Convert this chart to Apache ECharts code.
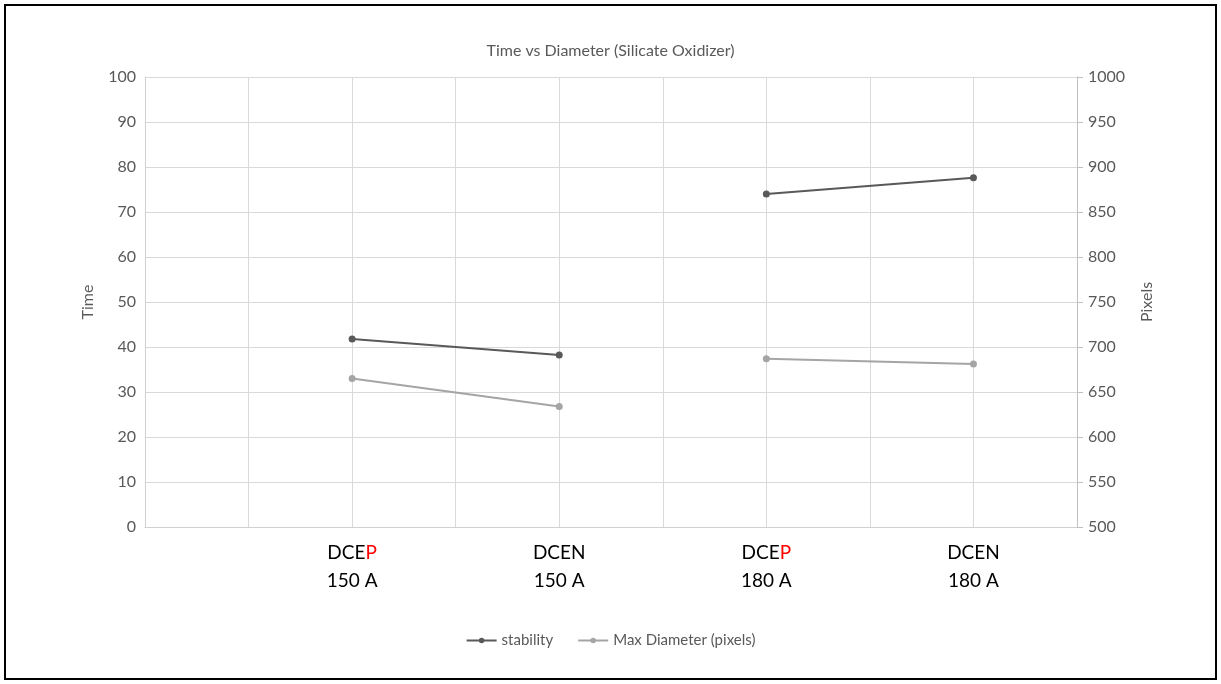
<!DOCTYPE html>
<html>
<head>
<meta charset="utf-8">
<title>Time vs Diameter (Silicate Oxidizer)</title>
<script src="https://cdn.jsdelivr.net/npm/echarts@6/dist/echarts.min.js"></script>
<style>
  html, body { margin: 0; padding: 0; background: #ffffff; }
  #chart { width: 1221px; height: 684px; }
</style>
</head>
<body>
<div id="chart"></div>
<script>
// Welding modes and currents, placed at every other slot of the x scale
const modes = ['DCEP', 'DCEN', 'DCEP', 'DCEN'];
const currents = ['150 A', '150 A', '180 A', '180 A'];
const positions = [2, 4, 6, 8];

// Measured values
const stability = [41.8, 38.2, 74.0, 77.6];        // Time (left axis)
const maxDiameter = [665, 634, 687, 681];          // Pixels (right axis)

const seriesNames = ['stability', 'Max Diameter (pixels)'];
const seriesColors = ['#595959', '#a5a5a5'];

const labelFont = 'Lato, "Open Sans", "Liberation Sans", sans-serif';

function xLabel(value) {
  const i = positions.indexOf(value);
  if (i < 0) return '';
  const m = modes[i];
  const head = m.slice(0, m.length - 1);
  const last = m.slice(-1);
  const lastStyle = last === 'P' ? 'r' : 'k';
  return '{k|' + head + '}{' + lastStyle + '|' + last + '}\n{k|' + currents[i] + '}';
}

// Each current level is drawn as its own segment, so the lines do not join across levels
const groups = [...new Set(currents)];

function buildSeries(values, name, color, axisIndex) {
  return groups.map(g => ({
    name: name,
    type: 'line',
    yAxisIndex: axisIndex,
    data: positions
      .map((x, i) => ({ x, i }))
      .filter(p => currents[p.i] === g)
      .map(p => [p.x, values[p.i]]),
    symbol: 'circle',
    symbolSize: 7,
    lineStyle: { color: color, width: 2 },
    itemStyle: { color: color }
  }));
}

const chart = echarts.init(document.getElementById('chart'), null, { renderer: 'canvas' });

chart.setOption({
  backgroundColor: '#ffffff',
  animation: false,
  textStyle: { fontFamily: labelFont },
  title: {
    text: 'Time vs Diameter (Silicate Oxidizer)',
    left: 'center',
    top: 38,
    textStyle: { fontSize: 16, fontWeight: 'normal', color: '#595959', fontFamily: labelFont }
  },
  graphic: [{
    type: 'rect',
    shape: { x: 5, y: 5, width: 1211, height: 674 },
    style: { fill: 'none', stroke: '#000000', lineWidth: 2 },
    silent: true
  }],
  legend: {
    bottom: 31,
    left: 'center',
    itemWidth: 30,
    itemHeight: 7,
    itemGap: 24,
    data: seriesNames,
    textStyle: { fontSize: 15, color: '#595959', fontFamily: labelFont }
  },
  grid: { left: 145, right: 144, top: 77, bottom: 157, containLabel: false },
  xAxis: {
    type: 'value',
    min: 0,
    max: 9,
    interval: 1,
    axisLine: { show: true, lineStyle: { color: '#d0d0d0', width: 1 } },
    axisTick: { show: false },
    splitLine: { show: true, lineStyle: { color: '#d9d9d9', width: 1 } },
    axisLabel: {
      margin: 12,
      formatter: xLabel,
      lineHeight: 28,
      rich: {
        k: { fontSize: 19, color: '#000000', fontFamily: labelFont, lineHeight: 28 },
        r: { fontSize: 19, color: '#ff0000', fontFamily: labelFont, lineHeight: 28 }
      }
    }
  },
  yAxis: [{
    type: 'value',
    name: 'Time',
    nameLocation: 'middle',
    nameGap: 49,
    nameRotate: 90,
    nameTextStyle: { fontSize: 16, color: '#595959', fontFamily: labelFont },
    min: 0,
    max: 100,
    interval: 10,
    axisLine: { show: true, lineStyle: { color: '#d0d0d0', width: 1 } },
    axisTick: { show: false },
    splitLine: { show: true, lineStyle: { color: '#d9d9d9', width: 1 } },
    axisLabel: { fontSize: 16, color: '#595959', margin: 9, fontFamily: labelFont }
  }, {
    type: 'value',
    name: 'Pixels',
    nameLocation: 'middle',
    nameGap: 62,
    nameRotate: 90,
    nameTextStyle: { fontSize: 16, color: '#595959', fontFamily: labelFont },
    min: 500,
    max: 1000,
    interval: 50,
    position: 'right',
    axisLine: { show: true, lineStyle: { color: '#bfbfbf', width: 1 } },
    axisTick: { show: true, length: 6, inside: false, lineStyle: { color: '#bfbfbf' } },
    splitLine: { show: false },
    axisLabel: {
      fontSize: 16, color: '#595959', margin: 11, fontFamily: labelFont,
      formatter: v => String(v)
    }
  }],
  series: [
    ...buildSeries(stability, seriesNames[0], seriesColors[0], 0),
    ...buildSeries(maxDiameter, seriesNames[1], seriesColors[1], 1)
  ]
});
</script>
</body>
</html>
